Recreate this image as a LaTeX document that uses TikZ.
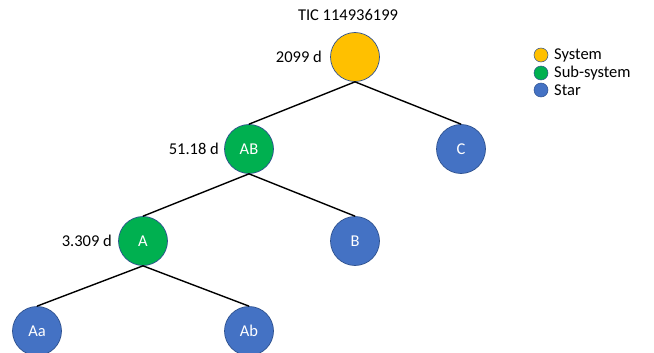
\documentclass[tikz,border=0pt]{standalone}
\usepackage{fontspec}
\setmainfont{Carlito}
\definecolor{sysc}{HTML}{FFC000}
\definecolor{subc}{HTML}{00B050}
\definecolor{starc}{HTML}{4472C4}
\definecolor{edgec}{HTML}{2F528F}
\begin{document}
\begin{tikzpicture}[x=1pt,y=-1pt,
  body/.style={circle,draw=edgec,line width=0.7pt,minimum size=49pt,inner sep=0pt,text=white,font=\fontsize{16.5}{18}\selectfont},
  sysnode/.style={body,fill=sysc},
  subnode/.style={body,fill=subc},
  starnode/.style={body,fill=starc},
  lbl/.style={font=\fontsize{16.5}{18}\selectfont,inner sep=0pt},
  link/.style={line width=1.4pt,black},
  key/.style={circle,draw=edgec,line width=0.5pt,minimum size=14pt,inner sep=0pt},
  keytxt/.style={font=\fontsize{16.5}{18}\selectfont,inner sep=0pt,anchor=west}]
\useasboundingbox (0,0) rectangle (654,353);
\clip (0,0) rectangle (654,353);
\node[sysnode] (S) at (355,57) {};
\node[subnode] (AB) at (249,149) {AB};
\node[starnode] (C) at (461,149) {C};
\node[subnode] (A) at (143,241) {A};
\node[starnode] (B) at (355,241) {B};
\node[starnode] (Aa) at (37,331) {Aa};
\node[starnode] (Ab) at (249,331) {Ab};
\node[lbl] (title) at (348,15) {TIC 114936199};
\node[lbl,anchor=east] (pS) at (322,57) {2099 d};
\node[lbl,anchor=east] (pAB) at (219,149) {51.18 d};
\node[lbl,anchor=east] (pA) at (112,241) {3.309 d};
\draw[link] (S.south) -- (AB.north);
\draw[link] (S.south) -- (C.north);
\draw[link] (AB.south) -- (A.north);
\draw[link] (AB.south) -- (B.north);
\draw[link] (A.south) -- (Aa.north);
\draw[link] (A.south) -- (Ab.north);
\node[key,fill=sysc] (k1) at (541,55) {};
\node[key,fill=subc] (k2) at (541,73) {};
\node[key,fill=starc] (k3) at (541,90) {};
\node[keytxt] (t1) at (554,55) {System};
\node[keytxt] (t2) at (554,73) {Sub-system};
\node[keytxt] (t3) at (554,90) {Star};
\end{tikzpicture}
\end{document}
